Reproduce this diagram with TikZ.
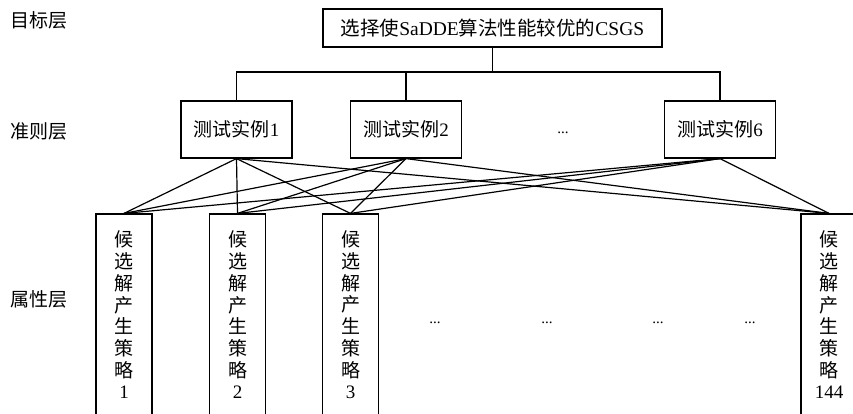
\documentclass[tikz,border=0pt]{standalone}
\usepackage{fontspec}
\setmainfont{Liberation Serif}
\newfontfamily\cjk{Noto Sans CJK SC}
\newcommand\zh[1]{{\cjk #1}}
\begin{document}
\begin{tikzpicture}[x=1pt,y=-1pt,
  box/.style={draw, line width=1.2pt, inner sep=0pt},
  goal/.style={box, minimum width=339, minimum height=38, font=\fontsize{19.5}{22}\selectfont},
  crit/.style={box, minimum width=111, minimum height=57, font=\fontsize{19}{22}\selectfont},
  attr/.style={box, minimum width=56, minimum height=202, align=center, font=\cjk\fontsize{19}{21.7}\selectfont},
  lab/.style={inner sep=0pt, font=\cjk\fontsize{19}{22}\selectfont},
  dotsn/.style={inner sep=0pt, font=\fontsize{15}{15}\selectfont},
  link/.style={line width=1.2pt}]
\useasboundingbox (0,0) rectangle (853,413);
% layer labels
\node[lab] (l1) at (39,20) {目标层};
\node[lab] (l2) at (39,131) {准则层};
\node[lab] (l3) at (39,299) {属性层};
% goal
\node[goal] (g) at (492.5,28) {\zh{选择使}SaDDE\zh{算法性能较优的}CSGS};
% criteria
\node[crit] (c1) at (236.5,129.5) {\zh{测试实例}1};
\node[crit] (c2) at (406,129.5) {\zh{测试实例}2};
\node[crit] (c6) at (720,129.5) {\zh{测试实例}6};
\node[dotsn] (cd) at (563,133) {...};
% attributes
\node[attr] (a1) at (124,315) {候\\选\\解\\产\\生\\策\\略\\{\rmfamily 1}};
\node[attr] (a2) at (237.5,315) {候\\选\\解\\产\\生\\策\\略\\{\rmfamily 2}};
\node[attr] (a3) at (350.5,315) {候\\选\\解\\产\\生\\策\\略\\{\rmfamily 3}};
\node[attr] (a144) at (829,315) {候\\选\\解\\产\\生\\策\\略\\{\rmfamily 144}};
\node[dotsn] (d1) at (435,323) {...};
\node[dotsn] (d2) at (547,323) {...};
\node[dotsn] (d3) at (658,323) {...};
\node[dotsn] (d4) at (750,323) {...};
% tree connectors
\coordinate (bar) at (0,72);
\draw[link] (g.south) -- (g.south |- bar);
\draw[link] (c1.north) -- (c1.north |- bar) -- (c6.north |- bar) -- (c6.north);
\draw[link] (c2.north) -- (c2.north |- bar);
% criterion to attribute links
\foreach \c in {c1,c2,c6}{
  \foreach \a in {a1,a2,a3,a144}{
    \draw[link] (\c.south) -- (\a.north);
  }
}
\end{tikzpicture}
\end{document}
